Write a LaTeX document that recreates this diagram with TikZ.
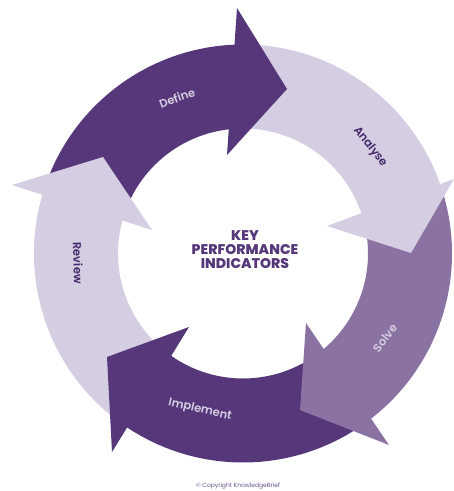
\documentclass[tikz,border=0pt]{standalone}
\usepackage{fontspec}
\setmainfont{Poppins}
\newfontfamily\labelfont{Poppins SemiBold}
\newfontfamily\titlefont{Poppins ExtraBold}
\definecolor{deep}{HTML}{55377A}
\definecolor{mid}{HTML}{8A73A3}
\definecolor{pale}{HTML}{D5CDE2}
\definecolor{ink}{HTML}{44296A}
\newcommand{\ringpart}[3]{%
  \fill[#1] ([shift={(243,237.5)}]#2:209) arc[start angle=#2,end angle=#3,radius=209]
    -- ([shift={(243,237.5)}]#3:125) arc[start angle=#3,end angle=#2,radius=125] -- cycle;}
\tikzset{
  steplabel/.style={font=\fontsize{11.5}{13}\selectfont\labelfont},
  lightlabel/.style={steplabel,text=pale},
  darklabel/.style={steplabel,text=ink},
  midtitle/.style={font=\fontsize{14}{14.2}\selectfont\titlefont,text=deep,align=center},
}
\begin{document}
\begin{tikzpicture}[x=1pt,y=1pt]
\path[use as bounding box,fill=white] (0,0) rectangle (454,491);
% ring bodies
\ringpart{deep}{160}{88}
\ringpart{pale}{88}{17}
\ringpart{mid}{17}{-55}
\ringpart{deep}{-53}{-128}
\ringpart{pale}{232}{160}
% arrow heads
\fill[deep] (237,483) -- (287,402) -- (227,336) -- cycle;
\fill[pale] (454,312) -- (411,238) -- (327,265) -- cycle;
\fill[mid] (306,168) -- (300,81) -- (389,46) -- cycle;
\fill[deep] (189,164) -- (107,134) -- (112,39) -- cycle;
\fill[pale] (152,261) -- (103,334) -- (12,306) -- cycle;
% labels
\node[lightlabel,rotate=20] (define) at (177,393) {Define};
\node[darklabel,rotate=-52] (analyse) at (370,344) {Analyse};
\node[lightlabel,rotate=52] (solve) at (385,153) {Solve};
\node[lightlabel,rotate=-13] (implement) at (200,81) {Implement};
\node[darklabel,rotate=-88] (review) at (78,228) {Review};
\node[midtitle] (title) at (245,241.5) {KEY\\PERFORMANCE\\INDICATORS};
\node[font=\fontsize{6}{7}\selectfont,text=ink!80] (copy) at (238,4.5) {© Copyright KnowledgeBrief};
\end{tikzpicture}
\end{document}
